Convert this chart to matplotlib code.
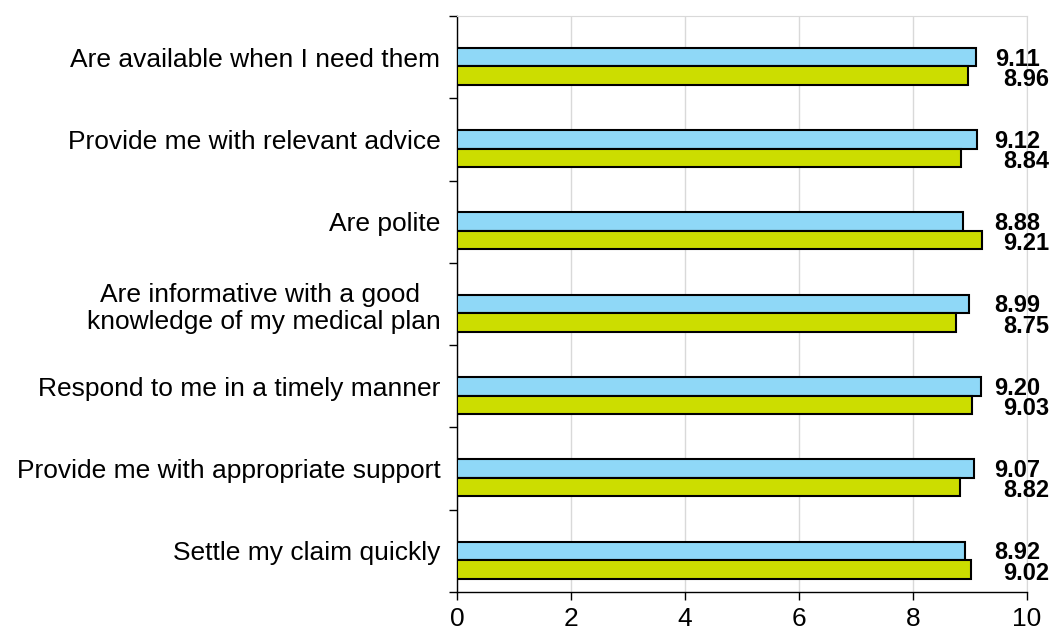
import matplotlib.pyplot as plt
import numpy as np

plt.rcParams['font.family'] = ['Liberation Sans', 'DejaVu Sans']

categorias = ['Are available when I need them',
              'Provide me with relevant advice',
              'Are polite',
              'Are informative with a good \nknowledge of my medical plan',
              'Respond to me in a timely manner',
              'Provide me with appropriate support',
              'Settle my claim quickly']
serie_azul = [9.11, 9.12, 8.88, 8.99, 9.20, 9.07, 8.92]
serie_verde = [8.96, 8.84, 9.21, 8.75, 9.03, 8.82, 9.02]
x_ticks = [0, 2, 4, 6, 8, 10]

cor_azul = '#8fd8f7'
cor_verde = '#ccdd00'
h = 0.225

fig = plt.figure(figsize=(10.55, 6.34), dpi=100)
ax = fig.add_axes([0.4332, 0.0662, 0.5403, 0.9086])

y = np.arange(len(categorias))
ax.barh(y, serie_azul, height=h, color=cor_azul, edgecolor='black', linewidth=1.5, zorder=3)
ax.barh(y + h, serie_verde, height=h, color=cor_verde, edgecolor='black', linewidth=1.5, zorder=3)

# rotulos de valor
for i in range(len(categorias)):
    ax.text(9.83, y[i] + 0.024, f'{serie_azul[i]:.2f}', ha='center', va='center',
            fontsize=17, fontweight='bold', clip_on=False, zorder=5)
    ax.text(9.98, y[i] + h + 0.045, f'{serie_verde[i]:.2f}', ha='center', va='center',
            fontsize=17, fontweight='bold', clip_on=False, zorder=5)

ax.set_xlim(0, 10)
ax.set_ylim(len(categorias) - 0.5, -0.5)
ax.set_xticks(x_ticks)
ax.set_xticklabels([str(t) for t in x_ticks], fontsize=19)
ax.set_yticks(y)
ax.set_yticklabels(categorias, fontsize=19, multialignment='center')
ax.tick_params(axis='y', length=0, pad=12)
ax.set_yticks(np.arange(-0.5, len(categorias) + 0.5, 1), minor=True)
ax.tick_params(axis='y', which='minor', length=6, width=1)
ax.tick_params(axis='x', length=6, width=1, pad=5)

ax.grid(axis='x', color='#d9d9d9', linewidth=1, zorder=0)
ax.spines['left'].set_linewidth(1)
ax.spines['bottom'].set_linewidth(1)
ax.spines['top'].set_color('#d9d9d9')
ax.spines['right'].set_color('#d9d9d9')

plt.savefig('out.png', dpi=100)
